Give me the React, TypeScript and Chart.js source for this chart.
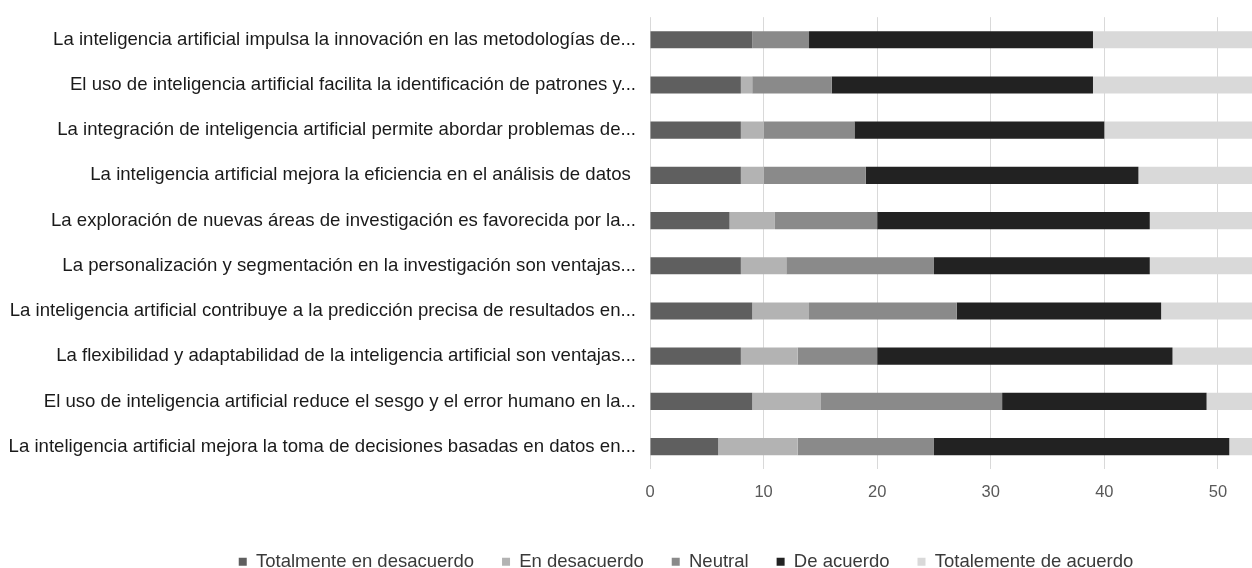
import React, { useEffect, useRef } from "react";
import { Chart, registerables } from "chart.js";

Chart.register(...registerables);

const categories = [
  "La inteligencia artificial impulsa la innovación en las metodologías de...",
  "El uso de inteligencia artificial facilita la identificación de patrones y...",
  "La integración de inteligencia artificial permite abordar problemas de...",
  "La inteligencia artificial mejora la eficiencia en el análisis de datos ",
  "La exploración de nuevas áreas de investigación es favorecida por la...",
  "La personalización y segmentación en la investigación son ventajas...",
  "La inteligencia artificial contribuye a la predicción precisa de resultados en...",
  "La flexibilidad y adaptabilidad de la inteligencia artificial son ventajas...",
  "El uso de inteligencia artificial reduce el sesgo y el error humano en la...",
  "La inteligencia artificial mejora la toma de decisiones basadas en datos en...",
];

const seriesNames = [
  "Totalmente en desacuerdo",
  "En desacuerdo",
  "Neutral",
  "De acuerdo",
  "Totalemente de acuerdo",
];

const totalmenteDesacuerdo = [9, 8, 8, 8, 7, 8, 9, 8, 9, 6];
const enDesacuerdo = [0, 1, 2, 2, 4, 4, 5, 5, 6, 7];
const neutral = [5, 7, 8, 9, 9, 13, 13, 7, 16, 12];
const deAcuerdo = [25, 23, 22, 24, 24, 19, 18, 26, 18, 26];
const totalmenteAcuerdo = [14, 14, 13, 10, 9, 9, 8, 7, 4, 2];

const seriesColors = ["#5f5f5f", "#b3b3b3", "#8a8a8a", "#222222", "#d9d9d9"];

const xTickValues = [0, 10, 20, 30, 40, 50];
const xMax = 53;

export default function App() {
  const canvasRef = useRef<HTMLCanvasElement | null>(null);

  useEffect(() => {
    if (!canvasRef.current) return;
    const values = [totalmenteDesacuerdo, enDesacuerdo, neutral, deAcuerdo, totalmenteAcuerdo];
    const shiftLegend = {
      id: "shiftLegend",
      afterLayout(chart: any) {
        const l = chart.legend;
        if (l) {
          l.left += 60;
          l.right += 60;
        }
      },
    };
    const chart = new Chart(canvasRef.current, {
      type: "bar",
      data: {
        labels: categories,
        datasets: seriesNames.map((name, i) => ({
          label: name,
          data: values[i],
          backgroundColor: seriesColors[i],
          borderWidth: 0,
          categoryPercentage: 1,
          barPercentage: 0.38,
        })),
      },
      options: {
        indexAxis: "y",
        animation: false,
        responsive: false,
        maintainAspectRatio: false,
        layout: { padding: { top: 15, right: 0, bottom: 0, left: 0 } },
        plugins: {
          tooltip: { enabled: false },
          legend: {
            position: "bottom",
            labels: {
              boxWidth: 8,
              boxHeight: 8,
              padding: 28,
              color: "#3a3a3a",
              font: { family: "'Liberation Sans', Arial, sans-serif", size: 18.5 },
            },
          },
        },
        scales: {
          x: {
            stacked: true,
            min: 0,
            max: xMax,
            afterBuildTicks: (scale: any) => {
              scale.ticks = xTickValues.map((v) => ({ value: v }));
            },
            afterFit: (scale: any) => {
              scale.height = 55.3;
            },
            ticks: {
              includeBounds: false,
              padding: 13,
              color: "#595959",
              font: { family: "'Liberation Sans', Arial, sans-serif", size: 16.5 },
            },
            grid: { color: "#d9d9d9", drawTicks: false },
            border: { display: false },
          },
          y: {
            stacked: true,
            afterFit: (scale: any) => {
              scale.width = 650;
            },
            ticks: {
              padding: 6,
              color: "#1a1a1a",
              font: { family: "'Liberation Sans', Arial, sans-serif", size: 18.6 },
            },
            grid: { display: false },
            border: { display: false },
          },
        },
      },
      plugins: [shiftLegend],
    });
    return () => chart.destroy();
  }, []);

  return (
    <div style={{ position: "fixed", left: 0, top: 0, width: 1252, height: 568, overflow: "hidden", background: "#fff" }}>
      <canvas ref={canvasRef} width={1252} height={581} style={{ width: 1252, height: 581, display: "block" }} />
    </div>
  );
}
